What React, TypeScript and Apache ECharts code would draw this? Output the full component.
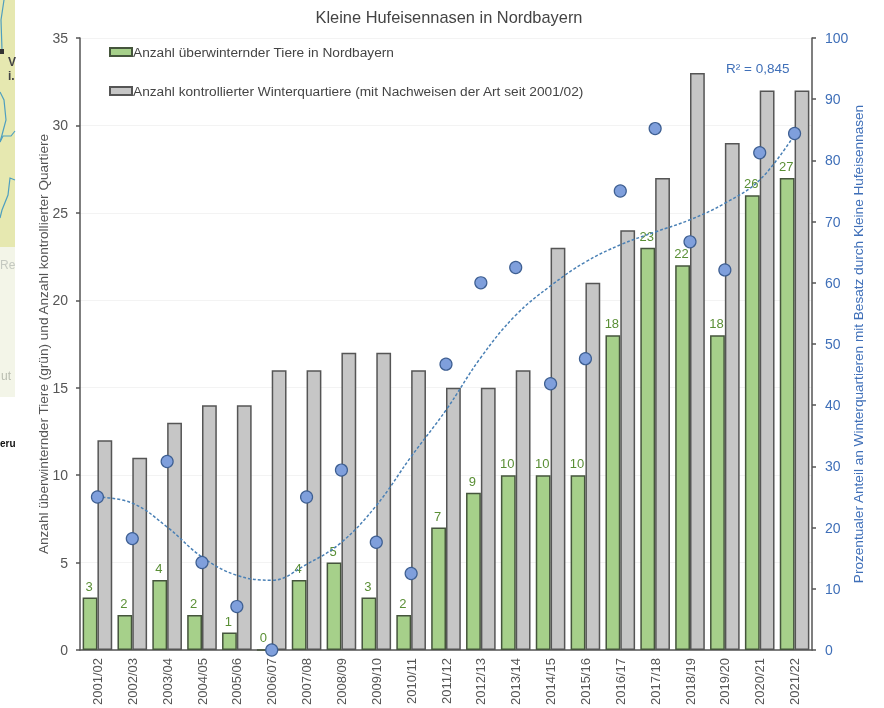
import React, { useEffect, useRef } from "react";
import * as echarts from "echarts";

const categories = ["2001/02","2002/03","2003/04","2004/05","2005/06","2006/07","2007/08","2008/09","2009/10","2010/11","2011/12","2012/13","2013/14","2014/15","2015/16","2016/17","2017/18","2018/19","2019/20","2020/21","2021/22"];
const animals = [3,2,4,2,1,0,4,5,3,2,7,9,10,10,10,18,23,22,18,26,27];
const quarters = [12,11,13,14,14,16,16,17,17,16,15,15,16,23,21,24,27,33,29,32,32];
const occupancy = [25,18.2,30.8,14.3,7.1,0,25,29.4,17.6,12.5,46.7,60,62.5,43.5,47.6,75,85.2,66.7,62.1,81.25,84.4];
const trend = [25,24,20.1,15.2,12.2,11.4,14,17.6,23.6,31.6,39.2,47.8,54.7,59.5,63.4,66.2,68.3,70.3,73,76.8,84.2];

const TITLE = "Kleine Hufeisennasen in Nordbayern";
const NAME_GREEN = "Anzahl überwinternder Tiere in Nordbayern";
const NAME_GREY = "Anzahl kontrollierter Winterquartiere (mit Nachweisen der Art seit 2001/02)";
const NAME_LEFT = "Anzahl überwinternder Tiere (grün) und Anzahl kontrollierter Quartiere";
const NAME_RIGHT = "Prozentualer Anteil an Winterquartieren mit Besatz durch Kleine Hufeisennasen";
const FONT = "Liberation Sans";
const GREY = "#555555";
const BLUE = "#3f6fb8";

export default function App() {
  const ref = useRef<HTMLDivElement>(null);
  useEffect(() => {
    const chart = echarts.init(ref.current!, null, { renderer: "svg" });
    const river = { stroke: "#4f9fbf", lineWidth: 1.2, fill: "none" };
    chart.setOption({
      animation: false,
      backgroundColor: "#ffffff",
      textStyle: { fontFamily: FONT },
      title: {
        text: TITLE, left: 449, top: 9, padding: 0, textAlign: "center",
        textStyle: { fontFamily: FONT, fontSize: 16.4, fontWeight: "normal", color: "#444444" },
      },
      legend: {
        data: [NAME_GREEN, NAME_GREY], orient: "vertical", left: 109, top: 45, padding: 0,
        itemWidth: 22, itemHeight: 8, itemGap: 25, icon: "rect",
        textStyle: { fontFamily: FONT, fontSize: 13.7, color: "#444444", padding: [0, 0, 0, -4] },
      },
      grid: { left: 80, right: 72, top: 38, bottom: 58 },
      xAxis: {
        type: "category", data: categories,
        axisLine: { lineStyle: { color: GREY, width: 1.5 } },
        axisTick: { alignWithLabel: false, length: 4, lineStyle: { color: GREY, width: 1.5 } },
        axisLabel: { rotate: 90, interval: 0, fontFamily: FONT, fontSize: 13, color: "#555555", margin: 8 },
      },
      yAxis: [
        {
          type: "value", min: 0, max: 35, interval: 5,
          name: NAME_LEFT, nameLocation: "middle", nameGap: 30, nameMoveOverlap: false,
          nameTextStyle: { fontFamily: FONT, fontSize: 13.6, color: "#555555" },
          axisLine: { show: true, lineStyle: { color: GREY, width: 1.5 } },
          axisTick: { show: true, length: 4, lineStyle: { color: GREY, width: 1.5 } },
          axisLabel: { fontFamily: FONT, fontSize: 14, color: "#555555", margin: 12 },
          splitLine: { show: true, lineStyle: { color: "#f3f3f3", width: 1 } },
        },
        {
          type: "value", min: 0, max: 100, interval: 10, position: "right",
          name: NAME_RIGHT, nameLocation: "middle", nameGap: 39, nameRotate: 90, nameMoveOverlap: false,
          nameTextStyle: { fontFamily: FONT, fontSize: 13.6, color: BLUE },
          axisLine: { show: true, lineStyle: { color: GREY, width: 1.5 } },
          axisTick: { show: true, length: 4, lineStyle: { color: GREY, width: 1.5 } },
          axisLabel: { fontFamily: FONT, fontSize: 14, color: BLUE, margin: 13 },
          splitLine: { show: false },
        },
      ],
      series: [
        {
          name: NAME_GREEN, type: "bar", data: animals, yAxisIndex: 0,
          barGap: "0%", barCategoryGap: "15%",
          itemStyle: { color: "#a6d08a", borderColor: "#45553c", borderWidth: 1.5 },
          label: { show: true, position: "top", distance: 5, offset: [-1, 0], fontFamily: FONT, fontSize: 13, color: "#5a8f35" },
        },
        {
          name: NAME_GREY, type: "bar", data: quarters, yAxisIndex: 0,
          itemStyle: { color: "#c6c6c6", borderColor: "#555555", borderWidth: 1.5 },
        },
        {
          name: "Trend", type: "line", data: trend, yAxisIndex: 1, smooth: 0.4, symbol: "none", z: 4,
          lineStyle: { color: "#4a80b5", width: 1.5, type: [3, 2] },
        },
        {
          name: "Anteil", type: "scatter", data: occupancy, yAxisIndex: 1, symbol: "circle", symbolSize: 12, z: 5,
          itemStyle: { color: "#7f9fdc", borderColor: "#3e5f92", borderWidth: 1.2, opacity: 1 },
        },
      ],
      graphic: [
        { type: "text", left: 726, top: 61, style: { text: "R² = 0,845", font: `13.5px ${FONT}`, fill: BLUE } },
        { type: "rect", shape: { x: 0, y: 0, width: 15, height: 247 }, style: { fill: "#e6e8b0" }, silent: true },
        { type: "rect", shape: { x: 0, y: 247, width: 15, height: 150 }, style: { fill: "#f3f5e8" }, silent: true },
        { type: "polyline", shape: { points: [[4, 0], [1, 20], [2, 50]] }, style: river, silent: true },
        { type: "rect", shape: { x: 0, y: 49, width: 4, height: 5 }, style: { fill: "#333333" }, silent: true },
        { type: "polyline", shape: { points: [[0, 92], [4, 100], [6, 120], [2, 135], [0, 142]] }, style: river, silent: true },
        { type: "polyline", shape: { points: [[15, 131], [11, 136], [3, 136], [0, 142]] }, style: river, silent: true },
        { type: "polyline", shape: { points: [[15, 180], [10, 178], [8, 195], [2, 210], [0, 218]] }, style: river, silent: true },
        { type: "text", x: 8, y: 56, style: { text: "V", font: `bold 12px ${FONT}`, fill: "#444444" }, silent: true },
        { type: "text", x: 8, y: 70, style: { text: "i.", font: `bold 12px ${FONT}`, fill: "#444444" }, silent: true },
        { type: "text", x: 0, y: 259, style: { text: "Re", font: `12px ${FONT}`, fill: "#c4c8c0" }, silent: true },
        { type: "text", x: 1, y: 370, style: { text: "ut", font: `12px ${FONT}`, fill: "#b8bcb0" }, silent: true },
        { type: "text", x: 0, y: 438, style: { text: "eru", font: `bold 10px ${FONT}`, fill: "#111111" }, silent: true },
      ],
    });
    return () => chart.dispose();
  }, []);
  return <div ref={ref} style={{ position: "absolute", left: 0, top: 0, width: 884, height: 708, filter: "blur(0.4px)" }} />;
}
